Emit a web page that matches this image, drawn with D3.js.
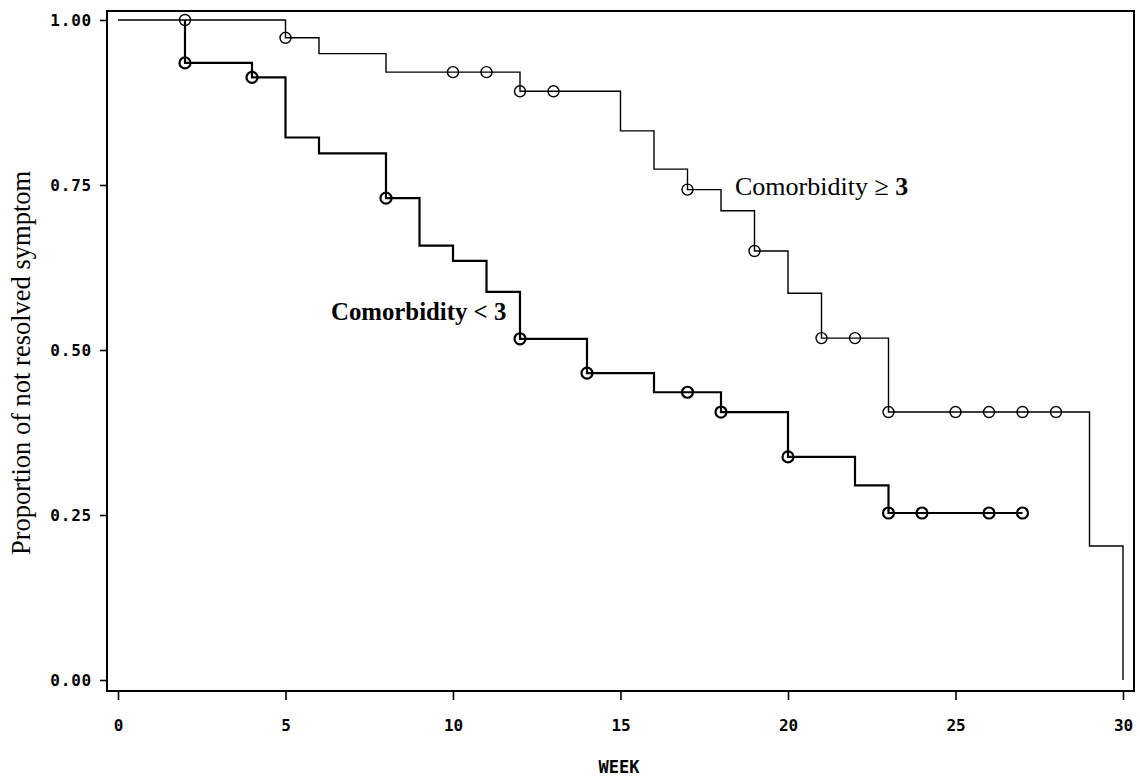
<!DOCTYPE html>
<html>
<head>
<meta charset="utf-8">
<script src="https://cdn.jsdelivr.net/npm/d3@7"></script>
<style>
    body { margin: 0; background: #fff; }
    svg { display: block; }
    .tick-label { font-family: "DejaVu Sans Mono", monospace; font-weight: bold; fill: #000; }
    .serif { font-family: "Liberation Serif", "Times New Roman", serif; fill: #000; }
</style>
</head>
<body>
<svg id="chart" width="1140" height="776"></svg>
<script>
// week of each drop, and the proportion right after it (Comorbidity >= 3)
const highTimes = [0, 5, 6, 8, 12, 15, 16, 17, 18, 19, 20, 21, 23, 29, 30];
const highSurv = [1.00, 0.973, 0.949, 0.921, 0.892, 0.832, 0.774, 0.743, 0.711, 0.650, 0.586, 0.518, 0.406, 0.203, 0.0];
const highEnd = 30;
const highCensored = [2, 5, 10, 11, 12, 13, 17, 19, 21, 22, 23, 25, 26, 27, 28];

// Comorbidity < 3
const lowTimes = [0, 2, 4, 5, 6, 8, 9, 10, 11, 12, 14, 16, 18, 20, 22, 23];
const lowSurv = [1.00, 0.935, 0.913, 0.822, 0.798, 0.730, 0.658, 0.635, 0.588, 0.517, 0.465, 0.436, 0.406, 0.338, 0.295, 0.253];
const lowEnd = 27;
const lowCensored = [2, 4, 8, 12, 14, 17, 18, 20, 23, 24, 26, 27];

const xTicks = [0, 5, 10, 15, 20, 25, 30];
const yTicks = [0, 0.25, 0.5, 0.75, 1.0];

const svg = d3.select("#chart");

const frame = { left: 107, top: 11, right: 1134, bottom: 691 };
const x = d3.scaleLinear().domain([0, 30]).range([118, 1123]);
const y = d3.scaleLinear().domain([0, 1]).range([680, 20]);

// frame
svg.append("rect")
    .attr("x", frame.left)
    .attr("y", frame.top)
    .attr("width", frame.right - frame.left)
    .attr("height", frame.bottom - frame.top)
    .attr("fill", "none")
    .attr("stroke", "#000")
    .attr("stroke-width", 2);

// y axis ticks
const yAxis = svg.append("g")
    .attr("transform", `translate(${frame.left}, 0)`)
    .call(d3.axisLeft(y).tickValues(yTicks).tickSize(7).tickFormat(d3.format(".2f")));
yAxis.select(".domain").remove();
yAxis.selectAll(".tick line").attr("stroke-width", 1.6);
yAxis.selectAll(".tick text")
    .attr("class", "tick-label")
    .attr("x", -15)
    .attr("dy", "0.36em")
    .style("font-size", "16px")
    .style("letter-spacing", "0.8px");

// x axis ticks
const xAxis = svg.append("g")
    .attr("transform", `translate(0, ${frame.bottom})`)
    .call(d3.axisBottom(x).tickValues(xTicks).tickSize(9));
xAxis.select(".domain").remove();
xAxis.selectAll(".tick line").attr("stroke-width", 1.6);
xAxis.selectAll(".tick text")
    .attr("class", "tick-label")
    .attr("y", 40)
    .attr("dy", "0")
    .style("font-size", "16px");

svg.append("text")
    .attr("class", "tick-label")
    .attr("x", 619)
    .attr("y", 773)
    .attr("text-anchor", "middle")
    .style("font-size", "17px")
    .text("WEEK");

svg.append("text")
    .attr("class", "serif")
    .attr("transform", "translate(30, 363) rotate(-90)")
    .attr("text-anchor", "middle")
    .style("font-size", "26.5px")
    .text("Proportion of not resolved symptom");

// step curves; the part before the first drop is shared, so start at it
function stepPoints(times, surv, end) {
    const pts = [[times[1], surv[0]]];
    times.forEach((t, i) => { if (i > 0) pts.push([t, surv[i]]); });
    pts.push([end, surv[surv.length - 1]]);
    return pts;
}
function valueAt(times, surv, t) {
    let v = surv[0];
    times.forEach((tt, i) => { if (tt <= t) v = surv[i]; });
    return v;
}

const line = d3.line()
    .x(d => x(d[0]))
    .y(d => y(d[1]))
    .curve(d3.curveStepAfter);

const groups = [
    { times: lowTimes, surv: lowSurv, end: lowEnd, cens: lowCensored, w: 2.2, full: false },
    { times: highTimes, surv: highSurv, end: highEnd, cens: highCensored, w: 1.4, full: true }
];

groups.forEach(g => {
    let pts = stepPoints(g.times, g.surv, g.end);
    if (g.full) pts = [[g.times[0], g.surv[0]]].concat(pts);
    svg.append("path")
        .attr("d", line(pts))
        .attr("fill", "none")
        .attr("stroke", "#000")
        .attr("stroke-width", g.w);

    svg.append("g")
        .selectAll("circle")
        .data(g.cens)
        .join("circle")
        .attr("cx", d => x(d))
        .attr("cy", d => y(valueAt(g.times, g.surv, d)))
        .attr("r", 5.5)
        .attr("fill", "none")
        .attr("stroke", "#000")
        .attr("stroke-width", g.w);
});

// curve labels
const hi = svg.append("text")
    .attr("class", "serif")
    .attr("x", 735)
    .attr("y", 195)
    .style("font-size", "26px");
hi.append("tspan").text("Comorbidity \u2265 ");
hi.append("tspan").attr("font-weight", "bold").text("3");

svg.append("text")
    .attr("class", "serif")
    .attr("x", 331)
    .attr("y", 320)
    .attr("font-weight", "bold")
    .style("font-size", "24.8px")
    .text("Comorbidity < 3");
</script>
</body>
</html>
